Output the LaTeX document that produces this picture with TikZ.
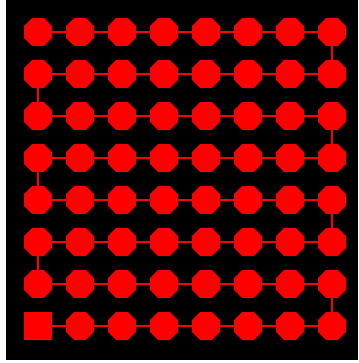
\documentclass[tikz,border=0pt]{standalone}
\usetikzlibrary{shapes.geometric}
\begin{document}
\begin{tikzpicture}[x=1pt,y=-1pt,
  oct/.style={regular polygon, regular polygon sides=8, fill=red, draw=none, minimum size=30.3pt, inner sep=0pt},
  sq/.style={rectangle, fill=red, draw=none, minimum size=28pt, inner sep=0pt},
  link/.style={draw=red, line width=1.6pt}]
\fill[white] (0,0) rectangle (358,363);
\useasboundingbox (0,0) rectangle (358,363);
\fill[black] (6,0) rectangle (358,360);
\foreach \r in {1,...,8}{
  \foreach \c in {1,...,8}{
    \ifnum\r=8 \ifnum\c=1
      \node[sq] (n-\r-\c) at ({38+42*(\c-1)},{32+42*(\r-1)}) {};
    \else
      \node[oct] (n-\r-\c) at ({38+42*(\c-1)},{32+42*(\r-1)}) {};
    \fi\else
      \node[oct] (n-\r-\c) at ({38+42*(\c-1)},{32+42*(\r-1)}) {};
    \fi
  }
}
\foreach \r in {1,...,8}{
  \foreach \c [evaluate=\c as \d using int(\c+1)] in {1,...,7}{
    \draw[link] (n-\r-\c) -- (n-\r-\d);
  }
}
\foreach \r/\s/\c in {1/2/8,2/3/1,3/4/8,4/5/1,5/6/8,6/7/1,7/8/8}{
  \draw[link] (n-\r-\c) -- (n-\s-\c);
}
\end{tikzpicture}
\end{document}
